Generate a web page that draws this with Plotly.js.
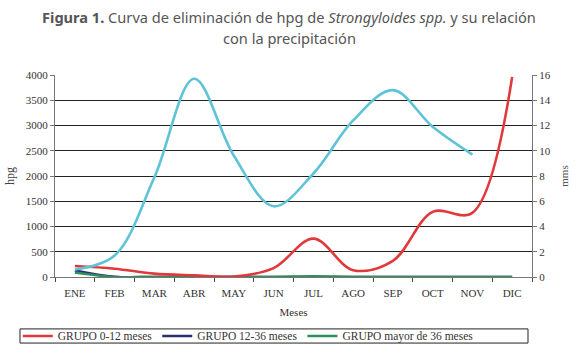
<!DOCTYPE html>
<html>
<head>
<meta charset="utf-8">
<script src="https://cdn.plot.ly/plotly-3.0.1.min.js"></script>
<style>html,body{margin:0;padding:0;background:#fff;}#chart{width:579px;height:357px;}</style>
</head>
<body>
<div id="chart"></div>
<script>
const months = ["ENE","FEB","MAR","ABR","MAY","JUN","JUL","AGO","SEP","OCT","NOV","DIC"];
const grupo0_12 = [218, 165, 67, 33, 10, 175, 760, 135, 320, 1290, 1270, 3960];
const grupo12_36 = [130, 5, 0, 0, 0, 0, 0, 0, 0, 0, 0, 0];
const grupoMayor36 = [90, 0, 0, 0, 0, 0, 15, 0, 0, 0, 0, 0];
const precipMonths = ["ENE","FEB","MAR","ABR","MAY","JUN","JUL","AGO","SEP","OCT","NOV"];
const precipitacion = [0.6, 1.7, 7.9, 15.7, 9.6, 5.6, 8.2, 12.4, 14.8, 11.9, 9.7];

const serif = "Liberation Serif, DejaVu Serif, serif";
const traces = [
  {x: precipMonths, y: precipitacion, yaxis: "y2", type: "scatter", mode: "lines",
   line: {color: "#5ec3d6", width: 2.6, shape: "spline", smoothing: 1}, showlegend: false, name: "Precipitación"},
  {x: months, y: grupo12_36, type: "scatter", mode: "lines",
   line: {color: "#2b2e72", width: 2.6, shape: "spline"}, name: "GRUPO 12-36 meses", legendrank: 2},
  {x: months, y: grupoMayor36, type: "scatter", mode: "lines",
   line: {color: "#2f8f5a", width: 2.6, shape: "spline"}, name: "GRUPO mayor de 36 meses", legendrank: 3},
  {x: months, y: grupo0_12, type: "scatter", mode: "lines",
   line: {color: "#e0393b", width: 2.6, shape: "spline", smoothing: 1}, name: "GRUPO 0-12 meses", legendrank: 1}
];

const titleFont = {family: "Noto Sans, DejaVu Sans, sans-serif", size: 14.6, color: "#555"};
const layout = {
  width: 579, height: 357,
  margin: {l: 55, r: 47, t: 75, b: 80, autoexpand: false},
  paper_bgcolor: "#fff", plot_bgcolor: "#fff",
  showlegend: true,
  annotations: [
    {text: "<b>Figura 1.</b> Curva de eliminación de hpg de <i>Strongyloides spp.</i> y su relación",
     xref: "paper", yref: "paper", x: 0.4906, y: 1.286, xanchor: "center", yanchor: "middle",
     showarrow: false, font: titleFont},
    {text: "con la precipitación",
     xref: "paper", yref: "paper", x: 0.4906, y: 1.182, xanchor: "center", yanchor: "middle",
     showarrow: false, font: titleFont}
  ],
  shapes: [
    {type: "rect", xref: "paper", yref: "paper", x0: -0.0734, x1: 0.9916, y0: -0.327, y1: -0.257,
     line: {color: "#222", width: 1}, fillcolor: "rgba(0,0,0,0)"}
  ],
  xaxis: {
    type: "category", categoryorder: "array", categoryarray: months,
    range: [-0.5, 11.5], tickson: "boundaries",
    ticks: "outside", ticklen: 4, tickcolor: "#444",
    showline: true, linecolor: "#777", linewidth: 1,
    showgrid: false, zeroline: false, ticklabelstandoff: 6,
    tickfont: {family: serif, size: 11, color: "#333"},
    title: {text: "Meses", font: {family: serif, size: 11, color: "#333"}, standoff: 10}
  },
  yaxis: {
    range: [0, 4000], dtick: 500, tick0: 0,
    ticks: "outside", ticklen: 4, tickcolor: "#777",
    showline: true, linecolor: "#777", linewidth: 1,
    showgrid: true, gridcolor: "#222", gridwidth: 1, zeroline: false,
    tickfont: {family: serif, size: 11, color: "#333"},
    title: {text: "hpg", font: {family: serif, size: 12, color: "#444"}, standoff: 8}
  },
  yaxis2: {
    overlaying: "y", side: "right", range: [0, 16], dtick: 2,
    ticks: "outside", ticklen: 4, tickcolor: "#777",
    showline: true, linecolor: "#777", linewidth: 1,
    showgrid: false, zeroline: false,
    tickfont: {family: serif, size: 11, color: "#333"},
    title: {text: "mms", font: {family: serif, size: 11, color: "#555"}, standoff: 10}
  },
  legend: {
    orientation: "h", xref: "paper", yref: "paper",
    x: -0.078, xanchor: "left", y: -0.292, yanchor: "middle",
    borderwidth: 0, bgcolor: "rgba(0,0,0,0)",
    font: {family: serif, size: 11.5, color: "#333"},
    itemwidth: 30, tracegroupgap: 0, traceorder: "normal"
  }
};
Plotly.newPlot("chart", traces, layout, {displayModeBar: false, staticPlot: true});
</script>
</body>
</html>
